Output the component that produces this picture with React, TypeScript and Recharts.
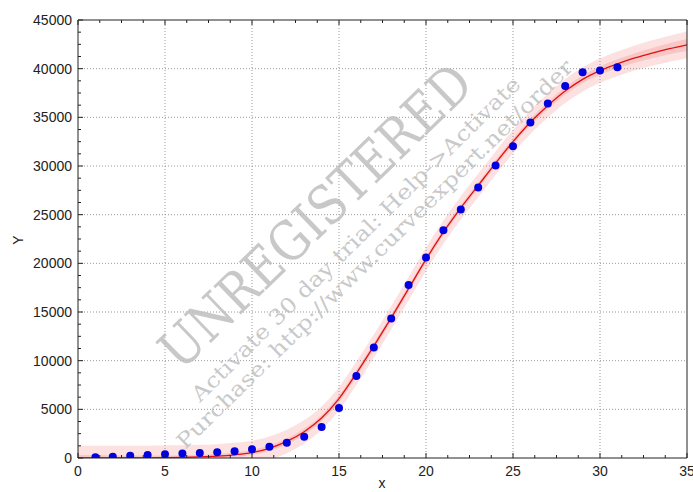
import React from 'react';
import { ComposedChart, Area, Line, Scatter, XAxis, YAxis, ReferenceLine } from 'recharts';

// fitted curve at whole x values
const fitX = [0, 1, 2, 3, 4, 5, 6, 7, 8, 9, 10, 11, 12, 13, 14, 15, 16, 17, 18, 19, 20, 21, 22, 23, 24, 25, 26, 27, 28, 29, 30, 31, 32, 33, 34, 35];
const fitY = [1, 3, 5, 10, 20, 35, 60, 110, 190, 330, 560, 1000, 1700, 2700, 4100, 6100, 8700, 11500, 14400, 17400, 20400, 23200, 25700, 28000, 30300, 32500, 34500, 36200, 37700, 38900, 39800, 40500, 41100, 41600, 42050, 42450];
// half widths of the prediction (outer) and confidence (inner) bands
const outerHalf = [1250, 1250, 1250, 1250, 1250, 1250, 1240, 1240, 1230, 1230, 1220, 1210, 1200, 1200, 1200, 1200, 1190, 1190, 1190, 1190, 1190, 1190, 1190, 1200, 1200, 1200, 1210, 1220, 1230, 1240, 1250, 1270, 1290, 1310, 1340, 1370];
const innerHalf = [300, 280, 260, 240, 230, 220, 220, 220, 230, 240, 260, 280, 300, 320, 330, 340, 340, 340, 330, 320, 310, 300, 300, 300, 310, 320, 340, 360, 380, 400, 430, 460, 490, 520, 560, 600];

// measured points
const dotX = [1, 2, 3, 4, 5, 6, 7, 8, 9, 10, 11, 12, 13, 14, 15, 16, 17, 18, 19, 20, 21, 22, 23, 24, 25, 26, 27, 28, 29, 30, 31];
const dotY = [70, 130, 240, 310, 380, 450, 510, 580, 690, 890, 1160, 1570, 2190, 3190, 5140, 8430, 11340, 14320, 17780, 20590, 23400, 25520, 27800, 30040, 32030, 34460, 36410, 38230, 39640, 39800, 40150];

const xMajor = [0, 5, 10, 15, 20, 25, 30, 35];
const yMajor = [0, 5000, 10000, 15000, 20000, 25000, 30000, 35000, 40000, 45000];

const withMinor = (major: number[], parts: number) => {
  const out: number[] = [];
  major.forEach((v, i) => {
    out.push(v);
    if (i < major.length - 1) {
      const step = (major[i + 1] - v) / parts;
      for (let k = 1; k < parts; k++) out.push(v + k * step);
    }
  });
  return out;
};
const xTicks = withMinor(xMajor, 4);
const yTicks = withMinor(yMajor, 4);

const chartData = fitX.map((x, i) => ({
  x,
  fit: fitY[i],
  outer: [fitY[i] - outerHalf[i], fitY[i] + outerHalf[i]],
  inner: [fitY[i] - innerHalf[i], fitY[i] + innerHalf[i]],
}));
const points = dotX.map((x, i) => ({ x, y: dotY[i] }));

const FONT = '"Liberation Sans", Arial, sans-serif';
const INK = '#222';

const BottomTick = ({ x, y, payload }: any) => {
  const major = xMajor.includes(payload.value);
  return (
    <g>
      <line x1={x} y1={y} x2={x} y2={y - (major ? 5 : 3)} stroke={INK} />
      {major && (
        <text x={x} y={y + 18} textAnchor="middle" fontSize={14} fontFamily={FONT} fill={INK}>
          {payload.value}
        </text>
      )}
    </g>
  );
};

const TopTick = ({ x, y, payload }: any) => {
  const major = xMajor.includes(payload.value);
  return <line x1={x} y1={y} x2={x} y2={y + (major ? 5 : 3)} stroke={INK} />;
};

const LeftTick = ({ x, y, payload }: any) => {
  const major = yMajor.includes(payload.value);
  return (
    <g>
      <line x1={x} y1={y} x2={x + (major ? 5 : 3)} y2={y} stroke={INK} />
      {major && (
        <text x={x - 6} y={y + 5} textAnchor="end" fontSize={14} fontFamily={FONT} fill={INK}>
          {payload.value}
        </text>
      )}
    </g>
  );
};

const RightTick = ({ x, y, payload }: any) => {
  const major = yMajor.includes(payload.value);
  return <line x1={x} y1={y} x2={x - (major ? 5 : 3)} y2={y} stroke={INK} />;
};

const Dot = (props: any) => <circle cx={props.cx} cy={props.cy} r={4} fill="#0000e0" />;

const gridStyle = { stroke: '#999', strokeDasharray: '1 2', strokeWidth: 1 };

export default function App() {
  return (
    <div style={{ position: 'absolute', left: 0, top: 0, width: 693, height: 492, background: '#fff' }}>
      <ComposedChart width={693} height={492} data={chartData} margin={{ top: 0, right: 0, bottom: 0, left: 0 }}>
        <XAxis
          dataKey="x"
          type="number"
          domain={[0, 35]}
          ticks={xTicks}
          interval={0}
          allowDataOverflow
          height={34}
          tickSize={0}
          tickMargin={0}
          tickLine={false}
          axisLine={{ stroke: INK }}
          tick={<BottomTick />}
        />
        <XAxis
          xAxisId="top"
          orientation="top"
          type="number"
          domain={[0, 35]}
          ticks={xTicks}
          interval={0}
          height={20}
          tickSize={0}
          tickMargin={0}
          tickLine={false}
          axisLine={{ stroke: INK }}
          tick={<TopTick />}
        />
        <YAxis
          type="number"
          domain={[0, 45000]}
          ticks={yTicks}
          interval={0}
          allowDataOverflow
          width={78}
          tickSize={0}
          tickMargin={0}
          tickLine={false}
          axisLine={{ stroke: INK }}
          tick={<LeftTick />}
        />
        <YAxis
          yAxisId="right"
          orientation="right"
          type="number"
          domain={[0, 45000]}
          ticks={yTicks}
          interval={0}
          width={6}
          tickSize={0}
          tickMargin={0}
          tickLine={false}
          axisLine={{ stroke: INK }}
          tick={<RightTick />}
        />
        <Area type="monotone" dataKey="outer" stroke="none" fill="#fde0e0" fillOpacity={1} isAnimationActive={false} />
        <Area type="monotone" dataKey="inner" stroke="none" fill="#f9c6c6" fillOpacity={1} isAnimationActive={false} />
        {xMajor.slice(1, -1).map((v) => (
          <ReferenceLine key={'vx' + v} x={v} {...gridStyle} />
        ))}
        {yMajor.slice(1, -1).map((v) => (
          <ReferenceLine key={'hy' + v} y={v} {...gridStyle} />
        ))}
        <Line type="monotone" dataKey="fit" stroke="#e01010" strokeWidth={1.3} dot={false} isAnimationActive={false} />
        <Scatter data={points} dataKey="y" shape={<Dot />} isAnimationActive={false} />
      </ComposedChart>
      <svg width={693} height={492} style={{ position: 'absolute', left: 0, top: 0, pointerEvents: 'none' }}>
        <text x={382} y={488} textAnchor="middle" fontSize={14} fontFamily={FONT} fill={INK}>x</text>
        <text x={23} y={240} textAnchor="middle" fontSize={14} fontFamily={FONT} fill={INK} transform="rotate(-90 23 240)">Y</text>
        <g fill="#bababa" fillOpacity={0.8} fontFamily='"DejaVu Serif", serif'>
          <text x={181} y={372} fontSize={54} textLength={410} lengthAdjust="spacingAndGlyphs" transform="rotate(-44 181 372)">UNREGISTERED</text>
          <text x={200} y={403} fontSize={21} textLength={452} lengthAdjust="spacingAndGlyphs" transform="rotate(-44.6 200 403)">Activate 30 day trial: Help-&gt;Activate</text>
          <text x={185} y={450} fontSize={21} textLength={545} lengthAdjust="spacingAndGlyphs" transform="rotate(-44.4 185 450)">Purchase: http://www.curveexpert.net/order</text>
        </g>
      </svg>
    </div>
  );
}
